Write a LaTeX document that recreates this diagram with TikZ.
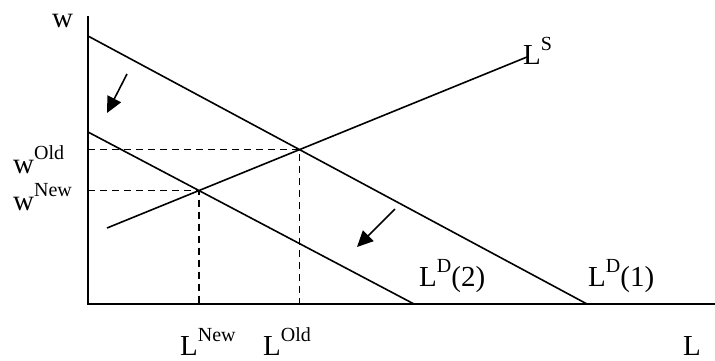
\documentclass[tikz,border=0pt]{standalone}
\usepackage{fontspec}
\setmainfont{Liberation Serif}
\usetikzlibrary{arrows.meta}
\newcommand\SupTxt[1]{\raisebox{14pt}{\fontsize{20}{20}\selectfont #1}}
\begin{document}
\begin{tikzpicture}[x=1pt,y=-1pt,
  axis/.style={line width=2.2pt},
  curve/.style={line width=1.6pt},
  guide/.style={line width=1.6pt,dash pattern=on 7pt off 5pt},
  shiftarrow/.style={line width=1.6pt,-{Triangle[length=16pt,width=15pt]}},
  lbl/.style={inner sep=0pt,anchor=base west,font=\fontsize{29}{30}\selectfont}]
\useasboundingbox (0,0) rectangle (715,360);
% axes
\coordinate (ytop) at (88,16);
\coordinate (O) at (88,304);
\coordinate (xend) at (715,304);
\draw[axis] (ytop) -- (O) -- (xend);
% curves
\coordinate (d1a) at (88,36);
\coordinate (d1b) at (587,304);
\coordinate (d2a) at (88,132);
\coordinate (d2b) at (414,304);
\coordinate (sa) at (107,228);
\coordinate (sb) at (527,57);
\draw[curve] (d1a) -- (d1b);
\draw[curve] (d2a) -- (d2b);
\draw[curve] (sa) -- (sb);
% equilibria
\coordinate (old) at (intersection of d1a--d1b and sa--sb);
\coordinate (new) at (intersection of d2a--d2b and sa--sb);
\coordinate (oldw) at (O |- old);
\coordinate (oldl) at (old |- O);
\coordinate (neww) at (O |- new);
\coordinate (newl) at (new |- O);
\draw[guide] (oldw) -- (old) -- (oldl);
\draw[guide] (neww) -- (new) -- (newl);
% shift arrows
\coordinate (a1s) at (127,74);
\coordinate (a1e) at (107,113);
\coordinate (a2s) at (395,209);
\coordinate (a2e) at (357,247);
\draw[shiftarrow] (a1s) -- (a1e);
\draw[shiftarrow] (a2s) -- (a2e);
% labels
\node[lbl] (wlab) at (52,27) {w};
\node[lbl] (wold) at (13,173) {w\SupTxt{Old}};
\node[lbl] (wnew) at (13,210) {w\SupTxt{New}};
\node[lbl] (lnew) at (180,355) {L\SupTxt{New}};
\node[lbl] (lold) at (263,355) {L\SupTxt{Old}};
\node[lbl] (ls) at (523,64) {L\SupTxt{S}};
\node[lbl] (ld2) at (419,286) {L\SupTxt{D}(2)};
\node[lbl] (ld1) at (588,286) {L\SupTxt{D}(1)};
\node[lbl] (llab) at (683,355) {L};
\end{tikzpicture}
\end{document}
